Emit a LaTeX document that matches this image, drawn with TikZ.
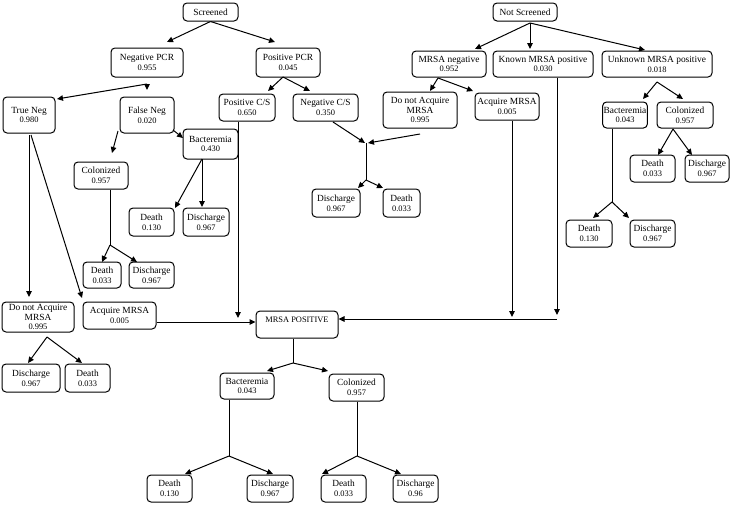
\documentclass[tikz,border=0pt]{standalone}
\usepackage{fontspec}
\setmainfont{Liberation Serif}
\usetikzlibrary{arrows.meta}
\newcommand\nm[1]{{\fontsize{8.4}{9.4}\selectfont #1}}
\newcommand\mybox[6]{\node[bx,minimum width={(#4-#2)*1pt},minimum height={(#5-#3)*1pt}] (#1) at ({(#2+#4)/2},{(#3+#5)/2}) {#6};}
\tikzset{
  bx/.style={draw, rounded corners=4pt, line width=1pt, align=center, inner sep=1pt, font=\fontsize{9.4}{9.6}\selectfont},
  ln/.style={line width=1pt},
  arr/.style={ln, -{Triangle[length=6pt,width=5.5pt]}}
}
\begin{document}
\begin{tikzpicture}[x=1pt,y=-1pt]
\useasboundingbox (0,0) rectangle (733,506);
% ---------- boxes ----------
\mybox{scr}{183}{3}{238}{21}{Screened}
\mybox{npcr}{111}{48}{183}{77}{Negative PCR\\\nm{0.955}}
\mybox{ppcr}{256}{48}{320}{77}{Positive PCR\\\nm{0.045}}
\mybox{tneg}{3}{97}{55}{133}{True Neg\\\nm{0.980}}
\mybox{fneg}{120}{97}{174}{133}{False Neg\\\nm{0.020}}
\mybox{pcs}{219}{94}{275}{121}{Positive C/S\\\nm{0.650}}
\mybox{ncs}{293}{94}{358}{121}{Negative C/S\\\nm{0.350}}
\mybox{fbac}{183}{129}{238}{159}{Bacteremia\\\nm{0.430}}
\mybox{fcol}{74}{162}{128}{189}{Colonized\\\nm{0.957}}
\mybox{fbde}{129}{208}{174}{236}{Death\\\nm{0.130}}
\mybox{fbdi}{183}{208}{229}{236}{Discharge\\\nm{0.967}}
\mybox{fcde}{83}{262}{121}{288}{Death\\\nm{0.033}}
\mybox{fcdi}{129}{262}{174}{288}{Discharge\\\nm{0.967}}
\mybox{tdna}{2}{302}{74}{332}{Do not Acquire\\MRSA\\\nm{0.995}}
\mybox{tacq}{83}{302}{156}{329}{Acquire MRSA\\\nm{0.005}}
\mybox{tddi}{2}{364}{60}{392}{Discharge\\\nm{0.967}}
\mybox{tdde}{65}{364}{110}{392}{Death\\\nm{0.033}}
\mybox{nscr}{493}{3}{557}{21}{Not Screened}
\mybox{mneg}{412}{51}{486}{77}{MRSA negative\\\nm{0.952}}
\mybox{kpos}{493}{51}{593}{77}{Known MRSA positive\\\nm{0.030}}
\mybox{upos}{602}{51}{712}{77}{Unknown MRSA positive\\\nm{0.018}}
\mybox{ndna}{383}{92}{457}{128}{Do not Acquire\\MRSA\\\nm{0.995}}
\mybox{nacq}{475}{93}{539}{120}{Acquire MRSA\\\nm{0.005}}
\mybox{mddi}{312}{189}{360}{217}{Discharge\\\nm{0.967}}
\mybox{mdde}{383}{189}{420}{217}{Death\\\nm{0.033}}
\mybox{ubac}{603}{102}{647}{128}{Bacteremia\\\nm{0.043}}
\mybox{ucol}{657}{102}{713}{128}{Colonized\\\nm{0.957}}
\mybox{ucde}{630}{155}{675}{182}{Death\\\nm{0.033}}
\mybox{ucdi}{685}{155}{729}{182}{Discharge\\\nm{0.967}}
\mybox{ubde}{566}{220}{612}{247}{Death\\\nm{0.130}}
\mybox{ubdi}{630}{220}{675}{247}{Discharge\\\nm{0.967}}
\mybox{mpos}{256}{311}{338}{338}{\nm{MRSA POSITIVE}\\\phantom{0}}
\mybox{pbac}{220}{373}{274}{399}{Bacteremia\\\nm{0.043}}
\mybox{pcol}{329}{374}{384}{401}{Colonized\\\nm{0.957}}
\mybox{pbde}{147}{475}{192}{502}{Death\\\nm{0.130}}
\mybox{pbdi}{247}{475}{293}{502}{Discharge\\\nm{0.967}}
\mybox{pcde}{321}{475}{366}{502}{Death\\\nm{0.033}}
\mybox{pcdi}{393}{475}{438}{502}{Discharge\\\nm{0.96}}
% ---------- coordinates ----------
\coordinate (a1) at (167,42); \coordinate (a2) at (275,42);
\coordinate (b0) at (147,84); \coordinate (b1) at (57,99); \coordinate (b2) at (147,90);
\coordinate (c0) at (283,77); \coordinate (c1) at (268,91); \coordinate (c2) at (310,91);
\coordinate (d0) at (530,23); \coordinate (d1) at (475,49); \coordinate (d2) at (530,49); \coordinate (d3) at (645,50);
\coordinate (e0) at (438,78); \coordinate (e1) at (430,91); \coordinate (e2) at (473,91);
\coordinate (f1) at (557,315); \coordinate (f2) at (557,319);
\coordinate (g1) at (512,317);
\coordinate (h0) at (657,82); \coordinate (h1) at (643,99); \coordinate (h2) at (683,99);
\coordinate (i1) at (612,202); \coordinate (i2) at (593,218); \coordinate (i3) at (629,218);
\coordinate (j0) at (673,129); \coordinate (j1) at (658,155); \coordinate (j2) at (692,155);
\coordinate (k1) at (238,318);
\coordinate (l0) at (333,122); \coordinate (l1) at (365,143); \coordinate (l2) at (420,134); \coordinate (l3) at (368,143);
\coordinate (m0) at (366,143); \coordinate (m1) at (366,180); \coordinate (m2) at (358,188); \coordinate (m3) at (383,188);
\coordinate (n0) at (29,135); \coordinate (n1) at (29,297); \coordinate (n2) at (31,135); \coordinate (n3) at (82,298);
\coordinate (o0) at (118,131); \coordinate (o1) at (112,153); \coordinate (o2) at (173,130); \coordinate (o3) at (183,138);
\coordinate (p0) at (202,159); \coordinate (p1) at (175,208); \coordinate (p2) at (202,207);
\coordinate (q1) at (110,245); \coordinate (q2) at (102,262); \coordinate (q3) at (137,262);
\coordinate (r1) at (256,322);
\coordinate (s0) at (47,337); \coordinate (s1) at (28,363); \coordinate (s2) at (82,363);
\coordinate (t1) at (293,363); \coordinate (t2) at (267,371); \coordinate (t3) at (328,371);
\coordinate (u1) at (229,456); \coordinate (u2) at (185,474); \coordinate (u3) at (273,474);
\coordinate (v1) at (357,456); \coordinate (v2) at (322,474); \coordinate (v3) at (401,474);
% ---------- connectors ----------
\draw[arr] (scr.south) -- (a1); \draw[arr] (scr.south) -- (a2);
\draw[arr] (b0) -- (b1); \draw[arr] (b0) -- (b2);
\draw[arr] (c0) -- (c1); \draw[arr] (c0) -- (c2);
\draw[arr] (d0) -- (d1); \draw[arr] (d0) -- (d2); \draw[arr] (d0) -- (d3);
\draw[arr] (e0) -- (e1); \draw[arr] (e0) -- (e2);
\draw[arr] (kpos.south -| f1) -- (f1);
\draw[arr] (f2) -- (mpos.east |- f2);
\draw[arr] (nacq.south -| g1) -- (g1);
\draw[arr] (h0) -- (h1); \draw[arr] (h0) -- (h2);
\draw[ln] (ubac.south -| i1) -- (i1); \draw[arr] (i1) -- (i2); \draw[arr] (i1) -- (i3);
\draw[arr] (j0) -- (j1); \draw[arr] (j0) -- (j2);
\draw[arr] (pcs.south -| k1) -- (k1);
\draw[arr] (l0) -- (l1); \draw[arr] (l2) -- (l3);
\draw[ln] (m0) -- (m1); \draw[arr] (m1) -- (m2); \draw[arr] (m1) -- (m3);
\draw[arr] (n0) -- (n1); \draw[arr] (n2) -- (n3);
\draw[arr] (o0) -- (o1); \draw[arr] (o2) -- (o3);
\draw[arr] (p0) -- (p1); \draw[arr] (p0) -- (p2);
\draw[ln] (fcol.south -| q1) -- (q1); \draw[arr] (q1) -- (q2); \draw[arr] (q1) -- (q3);
\draw[arr] (tacq.east |- r1) -- (mpos.west |- r1);
\draw[arr] (s0) -- (s1); \draw[arr] (s0) -- (s2);
\draw[ln] (mpos.south -| t1) -- (t1); \draw[arr] (t1) -- (t2); \draw[arr] (t1) -- (t3);
\draw[ln] (pbac.south -| u1) -- (u1); \draw[arr] (u1) -- (u2); \draw[arr] (u1) -- (u3);
\draw[ln] (pcol.south -| v1) -- (v1); \draw[arr] (v1) -- (v2); \draw[arr] (v1) -- (v3);
\end{tikzpicture}
\end{document}
